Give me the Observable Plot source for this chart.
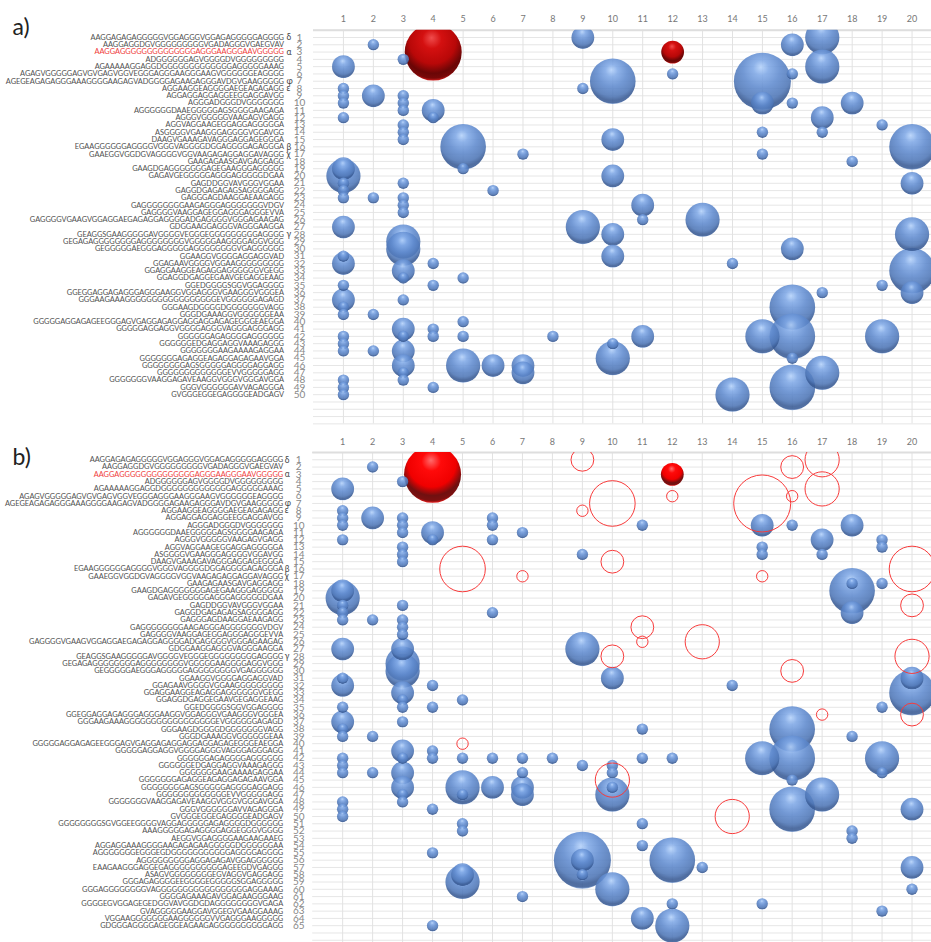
<!DOCTYPE html>
<html>
<head>
<meta charset="utf-8">
<script src="https://cdn.jsdelivr.net/npm/d3@7"></script>
<script src="https://cdn.jsdelivr.net/npm/@observablehq/plot@0.6"></script>
<style>
html,body{margin:0;padding:0;background:#fff;width:931px;height:942px;overflow:hidden}
svg{display:block;opacity:.999}
</style>
</head>
<body>
<div id="a"></div>
<div id="b"></div>
<script>
const sequences = [
"AAGGAGAGAGGGGGVGGAGGGVGGAGAGGGGGAGGGG","AAGGAGGDGVGGGGGGGGGVGADAGGGVGAEGVAV","AAGGAGGGGGGGGGGGGGGAGGGAAGGGAAVGGGGG",
"ADGGGGGGAGVGGGGDVGGGGGGGGG","AGAAAAAGGAGGDGGGGGGGGGGGGGAGGGGGAAAG","AGAGVGGGGGAGVGVGAGVGGVEGGGAGGGAAGGGAAGVGGGGGGEAGGGG",
"AGEGEAGAGAGGGAAAGGGGAAGAGVADGGGGAGAAGAGGGAVDGVGAAGGGGG","AGGAAGGEAGGGGAEGEAGAGAGG","AGGAGGAGGAGGEEGGAGGAVGG",
"AGGGADGGGDVGGGGGGG","AGGGGGGDAAEGGGGGAGSGGGGAAGAGA","AGGGVGGGGGVAAGAGVGAGG","AGGVAGGAAGEGGAGGAGGGGGA",
"ASGGGGVGAAGGGAGGGGVGGAVGG","DAAGVGAAAGAVAGGGAGGAGEGGGA","EGAAGGGGGGAGGGGVGGGVAGGGGDGGAGGGGAGAGGGA",
"GAAEGGVGGDGVAGGGGVGGVAAGAGAGGAGGAVAGGG","GAAGAGAASGAVGAGGAGG","GAAGDGAGGGGGGGAGEGAAGGGAGGGGG","GAGAVGEGGGGGAGGGAGGGGGDGAA",
"GAGDDGGVAVGGGVGGAA","GAGGDGAGAGAGSAGGGGAGG","GAGGGAGDAAGGAEAAGAGG","GAGGGGGGGGAAGAGGGAGGGGGGGVDGV","GAGGGGVAAGGAGEGGAGGGAGGGEVVA",
"GAGGGGVGAAGVGGAGGAEGAGAGGAGGGGADGAGGGGVGGGAGAAGAG","GDGGAAGGAGGGVAGGGAAGGA","GEAGGSGAAGGGGGAVGGGGVEGGGEGGGGGGGGGAGGGG",
"GEGAGAGGGGGGGGAGGGGGGGGVGGGGGAAGGGGAGGVGGG","GEGGGGGAEGGGAGGGGGAGGGGGGGGVGAGGGGGG","GGAAGGVGGGGAGGAGGVAD","GGAGAAVGGGGVGGAAGGGGGGGGG",
"GGAGGAAGGEAGAGGAGGGGGGVGEGG","GGAGGDGAGGEGAAVGEGAGGEAAG","GGEDGGGGSGGVGGAGGGG","GGEGGAGGAGAGGGAGGGAAGGVGGAGGGVGAAGGGVGGGEA",
"GGGAAGAAAGGGGGGGGGGGGGGGGGEVGGGGGGAGAGD","GGGAAGDGGGGDGGGGGGGVAGG","GGGDGAAAGGVGGGGGGEAA","GGGGGAGGAGAGEEGGGAGVGAGGAGAGGAGGAGGAGAGEGGGEAEGGA",
"GGGGGAGGAGGVGGGGAGGGVAGGGAGGGAGG","GGGGGGAGAGGGGAGGGGGG","GGGGGGEDGAGGAGGVAAAGAGGG","GGGGGGGAAGAAAAGAGGAA","GGGGGGGAGAGGEAGAGGAGAGAAVGGA",
"GGGGGGGGAGSGGGGGAGGGGAGGAGG","GGGGGGGGGGGGGEVVGGGGGAGG","GGGGGGGVAAGGAGAVEAAGGVGGGVGGGAVGGA","GGGVGGGGGGAVVAGAGGGA","GVGGGEGGEGAGGGGEADGAGV",
"GGGGGGGGSGVGGEEGGGGVAGGAGGGGGAGAGGGGDGGGGGG","AAAGGGGGAGAGGGGAGGEGGGVGGGG","AEGGVGGAGGGGAAGAAGAAEG","AGGAGGAAAGGGGAAGAGAGAAGGGGGDGGGGGGAA",
"AGGGGGGGEGGGEGDGGGGGGGGGGGAGGGGAGGGG","AGGGGGGGGGAGGAGAGAVGGAGGGGGG","EAAGAAGGGAGGEGAGGGGGGGGGGAGEEGDVGAGGG","ASAGVGGGGGGGGEGVAGGVGAGGAGG",
"GGGAGAGGGGEEGGGGEGGGGGSGGAGGGGG","GGGAGGGGGGGGVAGGGGGGGGGGGGGGGGGAGGAAAG","GGGGAGAAAGAVGGAGAAGGGAAG","GGGGEGVGGAGEGEDGGVAVGGDGDAGGGGGGGGVGAGA",
"GVAGGGGGAAGGAVGGEGVGAAGGAAAG","VGGAAGGGGGGGAAGGGGGGVVGAGGGAAGGGGG","GDGGGAGGGGAGEGGEAGAAGAGGGGGGGGGGAGG"
];
const greek = {1:"δ",3:"α",7:"φ",8:"ε",16:"β",17:"χ",28:"γ"};
const highlightRow = 3;
const columns = d3.range(1,21);

// [row, column, size]
const aBlue = [
[1,9,2],[1,17,3],[2,2,1],[2,16,2],[4,3,1],[5,1,2],[5,17,3],[6,12,1],[6,16,1],[7,10,4],[7,15,5],
[8,1,1],[8,9,1],[9,1,1],[9,2,2],[9,3,1],[10,1,1],[10,3,1],[10,15,2],[10,16,1],[10,18,2],[11,3,1],[11,4,2],
[12,1,1],[12,4,1],[12,17,2],[13,3,1],[13,19,1],[14,3,1],[14,15,1],[14,17,1],[15,3,1],[15,10,2],[16,5,4],[16,20,4],
[17,7,1],[17,15,1],[18,18,1],[19,1,2],[19,5,1],[20,1,3],[20,10,2],[21,1,1],[21,3,1],[21,20,2],[22,1,1],[22,6,1],
[23,1,1],[23,2,1],[23,3,1],[24,3,1],[24,11,2],[25,3,1],[26,11,1],[26,13,3],[27,1,2],[27,9,3],[28,10,2],[28,20,3],
[29,3,3],[30,3,3],[30,16,2],[31,1,1],[31,10,2],[32,1,2],[32,4,1],[32,14,1],[33,3,2],[33,20,4],[34,3,1],[34,5,1],
[35,1,1],[35,4,1],[35,19,1],[36,17,1],[36,20,2],[37,1,2],[37,3,1],[38,1,1],[38,16,4],[39,1,1],[39,2,1],
[40,5,1],[41,3,2],[41,4,1],[42,1,1],[42,3,1],[42,4,1],[42,5,1],[42,8,1],[42,11,2],[42,15,3],[42,16,4],[42,19,3],
[43,1,1],[43,10,1],[44,1,1],[44,2,1],[44,3,2],[45,10,3],[45,16,1],[46,3,2],[46,5,3],[46,6,2],[46,7,2],
[47,3,1],[47,7,2],[47,17,3],[48,1,1],[48,3,1],[49,1,1],[49,4,1],[49,16,4],[50,1,1],[50,14,3]
];
const aRed = [[3,4,5],[3,12,2]];

const bBlue = [
[2,2,1],[4,3,1],[5,1,2],
[8,1,1],[9,1,1],[9,2,2],[9,3,1],[9,6,1],[10,1,1],[10,3,1],[10,6,1],[10,11,1],[10,15,2],[10,16,1],[10,18,2],
[11,3,1],[11,4,2],[11,7,1],[12,1,1],[12,4,1],[12,6,1],[12,17,2],[12,19,1],[13,3,1],[13,15,1],[13,19,1],
[14,3,1],[14,9,1],[14,15,1],[14,17,1],[15,3,1],[18,18,1],[18,19,1],[19,1,2],[19,18,4],[20,1,3],
[21,1,1],[21,3,1],[22,1,1],[22,6,1],[22,18,2],[23,1,1],[23,2,1],[23,3,1],[24,3,1],[25,3,1],
[27,1,2],[27,3,2],[27,9,3],[29,3,3],[30,3,3],[31,1,1],[31,10,2],[31,20,2],[32,1,2],[32,4,1],[32,14,1],[33,3,2],[33,20,4],
[34,3,1],[34,5,1],[35,1,1],[35,3,1],[35,4,1],[35,19,1],[37,1,2],[37,3,1],[38,1,1],[38,11,1],[38,16,4],[39,1,1],[39,2,1],[39,18,1],
[41,3,2],[41,4,1],[42,1,1],[42,3,1],[42,4,1],[42,5,1],[42,6,1],[42,7,1],[42,8,1],[42,11,1],[42,12,1],[42,15,3],[42,16,4],[42,19,3],
[43,1,1],[43,9,1],[43,10,1],[44,1,1],[44,2,1],[44,3,2],[44,7,1],[44,10,1],[44,19,1],[45,16,1],[46,3,2],[46,5,3],[46,6,2],[46,7,2],[46,10,1],
[47,3,1],[47,5,1],[47,7,2],[47,10,3],[47,17,3],[48,1,1],[48,3,1],[49,1,1],[49,4,1],[49,16,4],[49,20,2],[50,1,1],
[51,5,1],[51,11,1],[52,5,1],[52,18,1],[53,18,1],[54,11,1],[55,4,1],[56,9,5],[56,9,2],[56,12,4],[57,13,1],[57,20,2],[58,5,2],[58,9,1],
[59,5,3],[60,10,3],[60,20,1],[61,7,1],[62,12,1],[62,15,1],[63,19,1],[64,11,2],[65,4,1],[65,12,3]
];
const bRed = [[3,4,5],[3,12,2]];
const bOpen = [
[1,9,2],[1,17,3],[2,16,2],[5,17,3],[6,12,1],[6,16,1],[7,10,4],[7,15,5],[8,9,1],[15,10,2],[16,5,4],[16,20,4],
[17,7,1],[17,15,1],[21,20,2],[24,11,2],[26,11,1],[26,13,3],[28,10,2],[28,20,3],[30,16,2],[36,17,1],[36,20,2],[40,5,1],[45,10,3],[50,14,3]
];

const toDots = list => list.map(([row,col,size]) => ({row,col,size}));

function gradientDefs() {
  const g = document.createElementNS("http://www.w3.org/2000/svg","g");
  const make = (id, stops) => `<radialGradient id="${id}" cx="0.5" cy="0.33" r="0.68" fx="0.47" fy="0.25">` +
    stops.map(([o,c]) => `<stop offset="${o}" stop-color="${c}"/>`).join("") + `</radialGradient>`;
  g.innerHTML = "<defs>" +
    make("ballBlue", [[0,"#b4d2fb"],[0.2,"#7fa8e6"],[0.48,"#5f8ace"],[0.76,"#4e76b6"],[0.88,"#385a94"],[0.95,"#3a5c96"],[1,"#a0c2f5"]]) +
    make("ballRedA", [[0,"#f04c4c"],[0.25,"#d41010"],[0.6,"#b80808"],[0.82,"#6a0606"],[0.93,"#780808"],[1,"#e42020"]]) +
    make("ballRedB", [[0,"#ff6c6c"],[0.25,"#ff0a0a"],[0.62,"#f00000"],[0.82,"#701010"],[0.93,"#7c1010"],[1,"#ff1c1c"]]) +
    "</defs>";
  return g;
}

function panel(el, {label, rowCount, rowStep, domainMaxY, domainMaxX, height, marginTop, marginLeft, blue, red, redFill, open, greekDx, tickPad}) {
  const rows = d3.range(1,rowCount+1).map(r => ({row:r, seq:sequences[r-1], greek:greek[r]||""}));
  const marks = [
    gradientDefs,
    Plot.ruleY(d3.range(0,Math.floor(domainMaxY)+1), {y:d=>d, stroke:"#e6e6e6", strokeWidth:1}),
    Plot.ruleX(columns, {x:d=>d, stroke:"#e2e2e2", strokeWidth:1}),
    Plot.ruleY([0], {stroke:"#dedede", strokeWidth:2}),
    Plot.dot(toDots(red), {x:"col", y:"row", r:"size", fill:redFill, stroke:"none", clip:true}),
    Plot.dot(toDots(blue), {x:"col", y:"row", r:"size", fill:"url(#ballBlue)", fillOpacity:0.88, stroke:"none", clip:true}),
    Plot.dot(toDots(open), {x:"col", y:"row", r:"size", fill:"none", stroke:"#f83a3a", strokeWidth:1, clip:true}),
    Plot.axisX(columns, {anchor:"top", tickSize:0, tickPadding:tickPad, fontSize:9, fill:"#777", fontFamily:"Lato", label:null, tickFormat:d=>String(d)}),
    Plot.text(rows, {y:"row", text:"seq", frameAnchor:"left", dx:-29.5, textAnchor:"end", fontSize:7.4, fontFamily:"Lato",
      fill:d=>d.row===highlightRow?"#ef3b3b":"#505050"}),
    Plot.text(rows, {y:"row", text:"greek", frameAnchor:"left", dx:greekDx, textAnchor:"start", fontSize:8.5, fontFamily:"Lato", fill:"#444"}),
    Plot.text(rows, {y:"row", text:d=>String(d.row), frameAnchor:"left", dx:-14, textAnchor:"middle", fontSize:10, fontFamily:"Lato", fill:"#888"}),
    Plot.text([label], {frameAnchor:"top-left", dx:12-marginLeft, dy:-(marginTop-18), fontSize:23, fontFamily:"Lato", fill:"#222", textAnchor:"start", lineAnchor:"top"})
  ];
  const chart = Plot.plot({
    width:931, height, marginTop, marginBottom:height-marginTop-domainMaxY*rowStep, marginLeft, marginRight:0,
    style:{background:"#fff", fontFamily:"Lato"},
    x:{domain:[0,domainMaxX], axis:null},
    y:{domain:[0,domainMaxY], axis:null, reverse:true},
    r:{type:"linear", domain:[0,5], range:[0,28.5]},
    marks
  });
  el.appendChild(chart);
}

panel(document.getElementById("a"), {label:"a)", rowCount:50, rowStep:7.29, domainMaxY:54, domainMaxX:20.65, height:430, marginTop:29.7, marginLeft:313,
  blue:aBlue, red:aRed, redFill:"url(#ballRedA)", open:[], greekDx:-27, tickPad:8.5});
panel(document.getElementById("b"), {label:"b)", rowCount:65, rowStep:7.28, domainMaxY:67.3, domainMaxX:20.65, height:512, marginTop:22, marginLeft:312.2,
  blue:bBlue, red:bRed, redFill:"url(#ballRedB)", open:bOpen, greekDx:-28, tickPad:8});
</script>
</body>
</html>
